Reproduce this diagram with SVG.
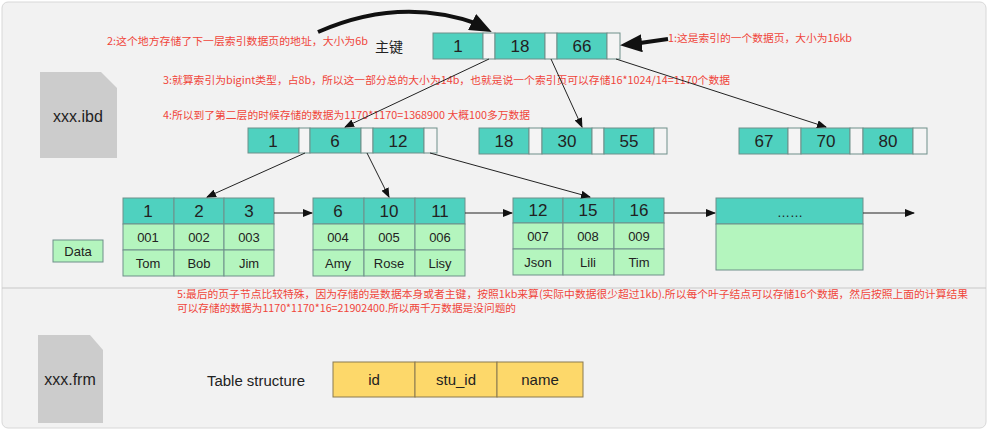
<svg xmlns="http://www.w3.org/2000/svg" width="988" height="433" viewBox="0 0 988 433">
<style>
.k{fill:#4fd1bf;stroke:#6f8f8a;stroke-width:1}
.g{fill:#f4f4f4;stroke:#6f8f8a;stroke-width:1}
.d{fill:#b4f5be;stroke:#6f8f8a;stroke-width:1}
.y{fill:#fdd86a;stroke:#8a7a50;stroke-width:1}
.t{font-family:"Liberation Sans",Arial,sans-serif;fill:#222;text-anchor:middle}
.n{font-size:17px}
.s{font-size:13px}
.r{font-family:"Noto Sans CJK SC","Liberation Sans",sans-serif;font-size:10.5px;fill:#f0453a}
.c{stroke:#222;stroke-width:1;fill:none;marker-end:url(#a)}
</style>
<defs>
<marker id="a" markerWidth="10" markerHeight="8" refX="9" refY="4" orient="auto" markerUnits="userSpaceOnUse"><path d="M0,0L10,4L0,8z" fill="#111"/></marker>
<marker id="b" markerWidth="22" markerHeight="18" refX="20" refY="9" orient="auto" markerUnits="userSpaceOnUse"><path d="M0,0L22,9L0,18z" fill="#111"/></marker>
</defs>
<rect width="988" height="433" fill="#ffffff"/>
<rect x="2" y="2" width="984" height="426" rx="6" fill="#f2f2f2" stroke="#d8d8d8"/>
<line x1="2" y1="288" x2="986" y2="288" stroke="#c8c8c8"/>
<g id="ibd"><path d="M40,72H101L117,88V158H40Z" fill="#cccccc"/><text x="78" y="122" class="t" font-size="16">xxx.ibd</text></g>
<g id="frm"><path d="M38,335H90L103,350V423H38Z" fill="#cccccc"/><text x="70" y="385" class="t" font-size="16">xxx.frm</text></g>
<g id="root">
<rect x="433" y="33" width="50" height="26" class="k"/><rect x="483" y="33" width="12" height="26" class="g"/>
<rect x="495" y="33" width="50" height="26" class="k"/><rect x="545" y="33" width="12" height="26" class="g"/>
<rect x="557" y="33" width="50" height="26" class="k"/><rect x="607" y="33" width="13" height="26" class="g"/>
<text class="t n" x="458" y="52">1</text><text class="t n" x="520" y="52">18</text><text class="t n" x="582" y="52">66</text>
</g>
<g id="l2a">
<rect x="248" y="128" width="51" height="25" class="k"/><rect x="299" y="128" width="11" height="25" class="g"/>
<rect x="310" y="128" width="51" height="25" class="k"/><rect x="361" y="128" width="12" height="25" class="g"/>
<rect x="373" y="128" width="51" height="25" class="k"/><rect x="424" y="128" width="13" height="25" class="g"/>
<text class="t n" x="273" y="147">1</text><text class="t n" x="335" y="147">6</text><text class="t n" x="398" y="147">12</text>
</g>
<g id="l2b">
<rect x="479" y="128" width="50" height="26" class="k"/><rect x="529" y="128" width="13" height="26" class="g"/>
<rect x="542" y="128" width="50" height="26" class="k"/><rect x="592" y="128" width="12" height="26" class="g"/>
<rect x="604" y="128" width="50" height="26" class="k"/><rect x="654" y="128" width="13" height="26" class="g"/>
<text class="t n" x="504" y="147">18</text><text class="t n" x="567" y="147">30</text><text class="t n" x="629" y="147">55</text>
</g>
<g id="l2c">
<rect x="739" y="128" width="49" height="26" class="k"/><rect x="788" y="128" width="13" height="26" class="g"/>
<rect x="801" y="128" width="49" height="26" class="k"/><rect x="850" y="128" width="13" height="26" class="g"/>
<rect x="863" y="128" width="50" height="26" class="k"/><rect x="913" y="128" width="14" height="26" class="g"/>
<text class="t n" x="764" y="147">67</text><text class="t n" x="826" y="147">70</text><text class="t n" x="888" y="147">80</text>
</g>
<g id="leaf1">
<rect x="123" y="198" width="51" height="26" class="k"/><rect x="174" y="198" width="50" height="26" class="k"/><rect x="224" y="198" width="50" height="26" class="k"/>
<rect x="123" y="224" width="51" height="26" class="d"/><rect x="174" y="224" width="50" height="26" class="d"/><rect x="224" y="224" width="50" height="26" class="d"/>
<rect x="123" y="250" width="51" height="26" class="d"/><rect x="174" y="250" width="50" height="26" class="d"/><rect x="224" y="250" width="50" height="26" class="d"/>
<text class="t n" x="148" y="217">1</text><text class="t n" x="199" y="217">2</text><text class="t n" x="249" y="217">3</text>
<text class="t s" x="148" y="242">001</text><text class="t s" x="199" y="242">002</text><text class="t s" x="249" y="242">003</text>
<text class="t s" x="148" y="268">Tom</text><text class="t s" x="199" y="268">Bob</text><text class="t s" x="249" y="268">Jim</text>
</g>
<g id="leaf2">
<rect x="313" y="198" width="51" height="26" class="k"/><rect x="364" y="198" width="51" height="26" class="k"/><rect x="415" y="198" width="50" height="26" class="k"/>
<rect x="313" y="224" width="51" height="26" class="d"/><rect x="364" y="224" width="51" height="26" class="d"/><rect x="415" y="224" width="50" height="26" class="d"/>
<rect x="313" y="250" width="51" height="26" class="d"/><rect x="364" y="250" width="51" height="26" class="d"/><rect x="415" y="250" width="50" height="26" class="d"/>
<text class="t n" x="338" y="217">6</text><text class="t n" x="389" y="217">10</text><text class="t n" x="440" y="217">11</text>
<text class="t s" x="338" y="242">004</text><text class="t s" x="389" y="242">005</text><text class="t s" x="440" y="242">006</text>
<text class="t s" x="338" y="268">Amy</text><text class="t s" x="389" y="268">Rose</text><text class="t s" x="440" y="268">Lisy</text>
</g>
<g id="leaf3">
<rect x="513" y="198" width="50" height="25" class="k"/><rect x="563" y="198" width="51" height="25" class="k"/><rect x="614" y="198" width="50" height="25" class="k"/>
<rect x="513" y="223" width="50" height="26" class="d"/><rect x="563" y="223" width="51" height="26" class="d"/><rect x="614" y="223" width="50" height="26" class="d"/>
<rect x="513" y="249" width="50" height="26" class="d"/><rect x="563" y="249" width="51" height="26" class="d"/><rect x="614" y="249" width="50" height="26" class="d"/>
<text class="t n" x="538" y="216">12</text><text class="t n" x="588" y="216">15</text><text class="t n" x="639" y="216">16</text>
<text class="t s" x="538" y="241">007</text><text class="t s" x="588" y="241">008</text><text class="t s" x="639" y="241">009</text>
<text class="t s" x="538" y="267">Json</text><text class="t s" x="588" y="267">Lili</text><text class="t s" x="639" y="267">Tim</text>
</g>
<g id="leaf4">
<rect x="716" y="198" width="147" height="26" class="k"/><rect x="716" y="224" width="147" height="46" class="d"/>
<text class="t s" x="790" y="217">……</text>
</g>
<g id="data"><rect x="53" y="240" width="50" height="22" class="d"/><text class="t s" x="78" y="256">Data</text></g>
<g id="table">
<text x="207" y="386" font-family="Liberation Sans,Arial,sans-serif" font-size="14" fill="#222" textLength="98" lengthAdjust="spacingAndGlyphs">Table structure</text>
<rect x="333" y="362" width="82" height="35" class="y"/><rect x="415" y="362" width="82" height="35" class="y"/><rect x="497" y="362" width="86" height="35" class="y"/>
<text class="t" font-size="15" x="374" y="385">id</text><text class="t" font-size="15" x="456" y="385">stu_id</text><text class="t" font-size="15" x="540" y="385">name</text>
</g>
<g id="pk"><text x="375" y="52" font-family="Noto Sans CJK SC,sans-serif" font-size="14" fill="#222">主键</text></g>
<g id="notes">
<text class="r" x="107" y="45" textLength="261" lengthAdjust="spacingAndGlyphs">2:这个地方存储了下一层索引数据页的地址，大小为6b</text>
<text class="r" x="668" y="42" textLength="184" lengthAdjust="spacingAndGlyphs">1:这是索引的一个数据页，大小为16kb</text>
<text class="r" x="163" y="84" textLength="567" lengthAdjust="spacingAndGlyphs">3:就算索引为bigint类型，占8b，所以这一部分总的大小为14b，也就是说一个索引页可以存储16*1024/14=1170个数据</text>
<text class="r" x="163" y="119" textLength="367" lengthAdjust="spacingAndGlyphs">4:所以到了第二层的时候存储的数据为1170*1170=1368900  大概100多万数据</text>
<text class="r" x="177" y="298" textLength="791" lengthAdjust="spacingAndGlyphs">5:最后的页子节点比较特殊，因为存储的是数据本身或者主键，按照1kb来算(实际中数据很少超过1kb).所以每个叶子结点可以存储16个数据，然后按照上面的计算结果</text>
<text class="r" x="177" y="312" textLength="339" lengthAdjust="spacingAndGlyphs">可以存储的数据为1170*1170*16=21902400.所以两千万数据是没问题的</text>
</g>
<g id="connectors">
<path d="M318,32Q400,-4 478,24" stroke="#111" stroke-width="4" fill="none"/>
<path d="M470,21L490,31" stroke="none" fill="none" marker-end="url(#b)"/>
<path d="M668,39L640,43" stroke="#111" stroke-width="4" fill="none"/>
<path d="M645,43L622,45" stroke="none" fill="none" marker-end="url(#b)"/>
<line x1="489" y1="59" x2="345" y2="127" class="c"/>
<line x1="551" y1="59" x2="582" y2="127" class="c"/>
<line x1="616" y1="59" x2="826" y2="127" class="c"/>
<line x1="305" y1="153" x2="207" y2="197" class="c"/>
<line x1="367" y1="153" x2="389" y2="197" class="c"/>
<line x1="430" y1="153" x2="590" y2="197" class="c"/>
<line x1="274" y1="213" x2="312" y2="213" class="c"/>
<line x1="465" y1="213" x2="512" y2="213" class="c"/>
<line x1="664" y1="213" x2="715" y2="213" class="c"/>
<line x1="863" y1="213" x2="914" y2="213" class="c"/>
</g>
</svg>
